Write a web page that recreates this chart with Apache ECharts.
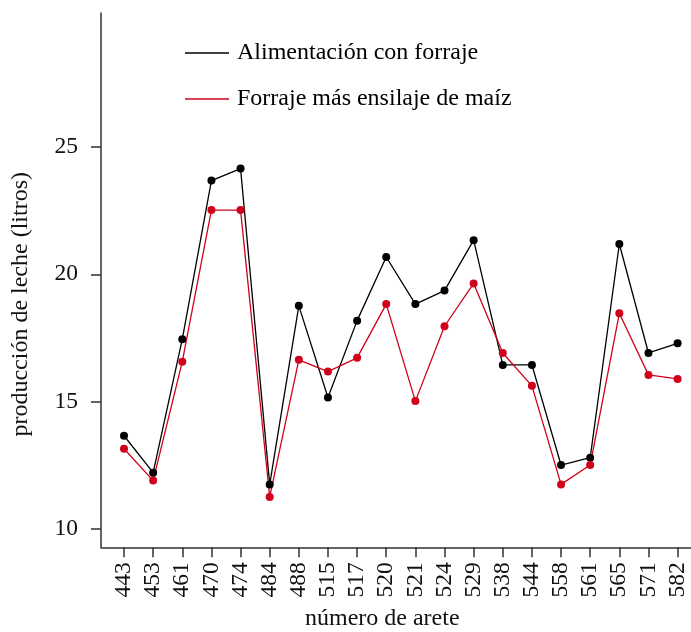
<!DOCTYPE html>
<html><head><meta charset="utf-8">
<script src="https://cdn.jsdelivr.net/npm/echarts@6/dist/echarts.min.js"></script>
<style>html,body{margin:0;padding:0;background:#fff}#c{width:691px;height:632px}</style>
</head><body><div id="c"></div>
<script>
const categories = ["443","453","461","470","474","484","488","515","517","520","521","524","529","538","544","558","561","565","571","582"];
const forraje = [13.66,12.21,17.45,23.68,24.15,11.75,18.76,15.16,18.18,20.68,18.83,19.36,21.34,16.44,16.44,12.51,12.80,21.19,16.91,17.29];
const ensilaje = [13.15,11.90,16.57,22.52,22.52,11.26,16.64,16.18,16.72,18.83,15.02,17.96,19.64,16.91,15.62,11.75,12.51,18.47,16.05,15.89];
const yTicks = [10,15,20,25];
const seriesNames = ["Alimentación con forraje","Forraje más ensilaje de maíz"];
const xTitle = "número de arete";
const yTitle = "producción de leche (litros)";

const FONT = "Liberation Serif";
const chart = echarts.init(document.getElementById('c'), null, {renderer:'canvas'});
const idx = categories.map((c,i)=>i);
chart.setOption({
  animation:false,
  textStyle:{fontFamily:FONT},
  grid:{left:101, right:0, top:13, bottom:84.7, containLabel:false},
  legend:{
    orient:'vertical', left:180, top:36, itemWidth:44, itemHeight:1.5, itemGap:22,
    icon:'rect',
    textStyle:{fontFamily:FONT, fontSize:24, color:'#000', padding:[0,0,0,3]},
    data:seriesNames
  },
  xAxis:{
    type:'value', min:-0.79, max:19.46,
    splitLine:{show:false},
    axisLine:{show:true, onZero:false, lineStyle:{color:'#333', width:1.5}},
    axisTick:{show:true, length:10, lineStyle:{color:'#333', width:1.5}, customValues:idx},
    axisLabel:{customValues:idx, rotate:90, margin:15, fontSize:23.5, color:'#111', fontFamily:FONT,
      formatter:v=>categories[Math.round(v)]}
  },
  yAxis:{
    type:'value', min:9.28, max:30.26,
    splitLine:{show:false},
    axisLine:{show:true, onZero:false, lineStyle:{color:'#333', width:1.5}},
    axisTick:{show:true, length:10, lineStyle:{color:'#333', width:1.5}, customValues:yTicks},
    axisLabel:{customValues:yTicks, margin:23, fontSize:23.5, color:'#111', fontFamily:FONT},
  },
  graphic:[{
    type:'text', left:9, top:172, rotation:Math.PI/2,
    style:{text:yTitle, font:'24px "Liberation Serif"', fill:'#111'}
  },{
    type:'text', left:305, top:607,
    style:{text:xTitle, font:'24px "Liberation Serif"', fill:'#111'}
  }],
  series:[
    {name:seriesNames[0], type:'line', data:forraje.map((v,i)=>[i,v]),
     symbol:'circle', symbolSize:8, itemStyle:{color:'#000'}, lineStyle:{color:'#000', width:1.3}},
    {name:seriesNames[1], type:'line', data:ensilaje.map((v,i)=>[i,v]),
     symbol:'circle', symbolSize:8, itemStyle:{color:'#d0021b'}, lineStyle:{color:'#d0021b', width:1.3}}
  ]
});
</script></body></html>
